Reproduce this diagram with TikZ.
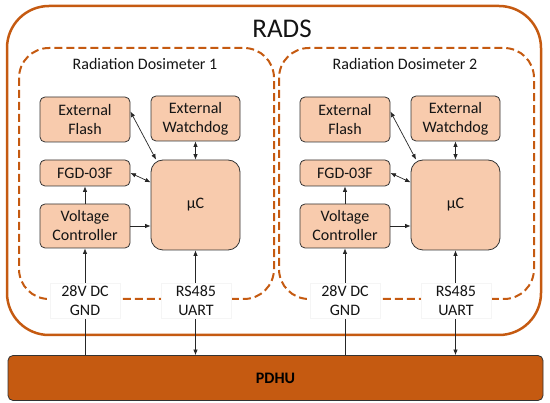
\documentclass[tikz,border=0pt]{standalone}
\usepackage{fontspec}
\setmainfont{Carlito}
\usetikzlibrary{arrows.meta,calc}
\definecolor{rorange}{RGB}{197,90,17}
\definecolor{rfill}{RGB}{248,203,173}
\definecolor{rtext}{RGB}{20,20,20}
\tikzset{
  blk/.style={draw=black!80, line width=0.8pt, fill=rfill, rounded corners=5pt, inner sep=0pt,
    align=center, text=rtext, font=\fontsize{16}{19}\selectfont},
  conn/.style={line width=0.7pt, draw=black!85},
  tip/.style={-{Latex[length=5.5pt,width=4.5pt]}},
  biti/.style={{Latex[length=5.5pt,width=4.5pt]}-{Latex[length=5.5pt,width=4.5pt]}},
  lbl/.style={fill=white, draw=black!4, line width=0.4pt, inner sep=0pt, minimum width=70pt, minimum height=35pt,
    align=center, text=rtext, font=\fontsize{16}{19}\selectfont},
  dashbox/.style={draw=rorange, line width=2pt, dash pattern=on 8pt off 4pt, rounded corners=30pt},
  ttl/.style={text=rtext, font=\fontsize{16}{19}\selectfont}
}
\begin{document}
\begin{tikzpicture}[x=1pt,y=-1pt]
\useasboundingbox (0,0) rectangle (550,403);
% outer RADS
\draw[rorange, line width=2.5pt, rounded corners=42pt] (7,6) rectangle (541,335);
\node[text=rtext, font=\fontsize{27}{30}\selectfont] (rads) at (282,29) {RADS};
% PDHU
\node[draw=black!80, line width=0.8pt, fill=rorange, rounded corners=5pt, minimum width=535pt, minimum height=45pt,
  inner sep=0pt, font=\fontsize{16}{19}\selectfont\bfseries, text=black] (pdhu) at (275.5,378) {PDHU};
\foreach \o/\s in {0/1,260/2}{
  \draw[dashbox] (19+\o,48) rectangle (274+\o,299);
  \node[ttl] (t\s) at (145+\o,64) {Radiation Dosimeter \s};
  \node[blk, minimum width=90pt, minimum height=45pt] (fl\s) at (85+\o,119.5) {External\\Flash};
  \node[blk, minimum width=89pt, minimum height=45pt] (wd\s) at (195.5+\o,118.5) {External\\Watchdog};
  \node[blk, minimum width=90pt, minimum height=26pt] (fg\s) at (85+\o,173) {FGD-03F};
  \node[blk, minimum width=89pt, minimum height=90pt, rounded corners=12pt] (mc\s) at (195.5+\o,205) {µC};
  \node[blk, minimum width=90pt, minimum height=44pt] (vc\s) at (85+\o,226) {Voltage\\Controller};
  \draw[conn,biti] (fl\s.10) -- (mc\s.131);
  \draw[conn,biti] (wd\s.south) -- (mc\s.north);
  \draw[conn,biti] (fg\s.east) -- ($(mc\s.north west)!0.25!(mc\s.south west)$);
  \draw[conn,tip] (vc\s.north) -- (fg\s.south);
  \draw[conn,tip] (vc\s.east) -- (vc\s.east -| mc\s.west);
  \draw[conn,tip] (vc\s.south |- pdhu.north) -- (vc\s.south);
  \draw[conn,biti] (mc\s.south) -- (mc\s.south |- pdhu.north);
  \node[lbl] (pw\s) at (85+\o,301) {28V DC\\GND};
  \node[lbl] (rs\s) at (196+\o,301) {RS485\\UART};
}
\end{tikzpicture}
\end{document}
